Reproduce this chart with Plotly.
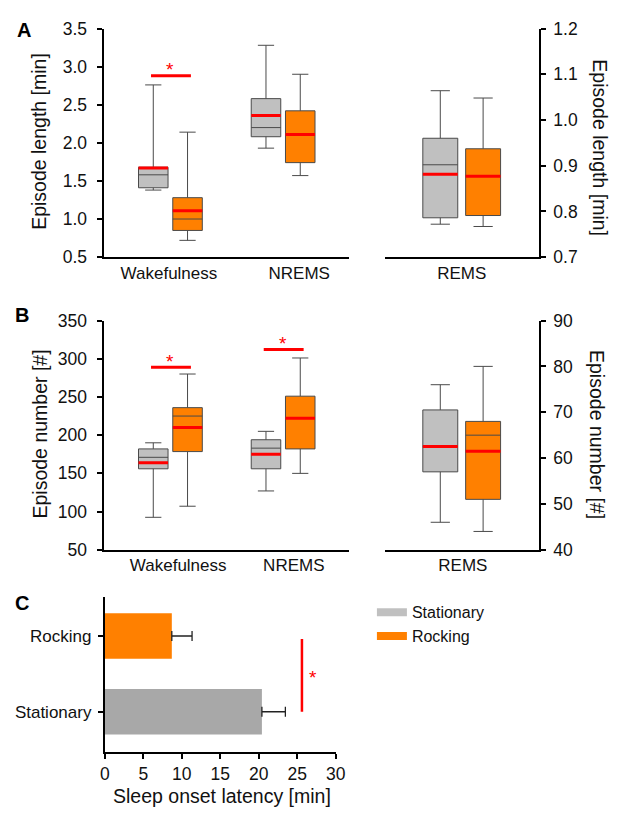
import plotly.graph_objects as go

W, H = 621, 819

# ------------------------------------------------------------------ data
states = ["Wakefulness", "NREMS", "REMS"]
groups = ["Stationary", "Rocking"]

# Panel A - episode length [min]; order: Wakefulness, NREMS, REMS (REMS on right axis)
A_stat_low = [1.38, 1.93, 0.772]
A_stat_q1 = [1.41, 2.08, 0.786]
A_stat_med = [1.58, 2.20, 0.902]
A_stat_q3 = [1.68, 2.58, 0.960]
A_stat_high = [2.76, 3.28, 1.064]
A_stat_mean = [1.67, 2.36, 0.881]

A_rock_low = [0.72, 1.57, 0.767]
A_rock_q1 = [0.85, 1.74, 0.791]
A_rock_med = [1.00, 2.10, 0.877]
A_rock_q3 = [1.28, 2.42, 0.937]
A_rock_high = [2.14, 2.90, 1.048]
A_rock_mean = [1.11, 2.11, 0.877]

A_sig_states = ["Wakefulness"]
A_sig_y = [2.88]

# Panel B - episode number [#]
B_stat_low = [92.5, 127, 46]
B_stat_q1 = [156, 156, 57]
B_stat_med = [171, 183, 62.5]
B_stat_q3 = [182, 194, 70.5]
B_stat_high = [190, 205, 76]
B_stat_mean = [164, 175, 62.5]

B_rock_low = [107, 150, 44]
B_rock_q1 = [178.5, 182, 51]
B_rock_med = [225, 222, 65]
B_rock_q3 = [236, 251, 68]
B_rock_high = [280, 301, 80]
B_rock_mean = [210, 222, 61.5]

B_sig_states = ["Wakefulness", "NREMS"]
B_sig_y = [289, 312]

# Panel C - sleep onset latency [min]
C_groups = ["Stationary", "Rocking"]
C_latency = [20.4, 8.7]
C_sem = [3.05, 2.63]
C_sig_x = 25.6

# tick values
A_left_ticks = [0.5, 1.0, 1.5, 2.0, 2.5, 3.0, 3.5]
A_right_ticks = [0.7, 0.8, 0.9, 1.0, 1.1, 1.2]
B_left_ticks = [50, 100, 150, 200, 250, 300, 350]
B_right_ticks = [40, 50, 60, 70, 80, 90]
C_x_ticks = [0, 5, 10, 15, 20, 25, 30]

# ------------------------------------------------------------------ style
GREY = "#c0c0c0"
ORANGE = "#ff8000"
BAR_GREY = "#a8a8a8"
RED = "#ff0000"
EDGE = "#4a4a4a"
FONT = "Liberation Sans, Arial, sans-serif"


def px(x):
    return x / W


def py(y):
    return 1 - y / H


UNIT = 115.5                      # px between category centres
pos = {"Wakefulness": 1.0, "NREMS": 2.0, "REMS": 3.0}
left_range = [1 - 68.5 / UNIT, 2 + 68 / UNIT]
right_range = [3 - 79 / UNIT, 3 + 79 / UNIT]
OFF_L, WID_L = 0.152, 0.262
OFF_R, WID_R = 0.19, 0.31

fig = go.Figure()


def add_boxes(stat, rock, xl, yl, xr, yr):
    cfg = [
        ("Stationary", stat, GREY, -1),
        ("Rocking", rock, ORANGE, +1),
    ]
    for name, s, col, sgn in cfg:
        low, q1, med, q3, high, mean = s
        xs = [pos[st] + sgn * OFF_L for st in states[:2]]
        fig.add_trace(go.Box(
            x=xs, q1=q1[:2], median=med[:2], q3=q3[:2],
            lowerfence=low[:2], upperfence=high[:2],
            width=WID_L, fillcolor=col, line=dict(color=EDGE, width=1),
            whiskerwidth=0.55, boxpoints=False, name=name,
            showlegend=False, xaxis=xl, yaxis=yl, hoverinfo="skip"))
        xr_pos = [pos[states[2]] + sgn * OFF_R]
        fig.add_trace(go.Box(
            x=xr_pos, q1=q1[2:], median=med[2:], q3=q3[2:],
            lowerfence=low[2:], upperfence=high[2:],
            width=WID_R, fillcolor=col, line=dict(color=EDGE, width=1),
            whiskerwidth=0.55, boxpoints=False, name=name,
            showlegend=False, xaxis=xr, yaxis=yr, hoverinfo="skip"))
        mx, my = [], []
        for i, st in enumerate(states[:2]):
            c = pos[st] + sgn * OFF_L
            mx += [c - WID_L / 2, c + WID_L / 2, None]
            my += [mean[i], mean[i], None]
        fig.add_trace(go.Scatter(x=mx, y=my, mode="lines",
                                 line=dict(color=RED, width=3),
                                 showlegend=False, hoverinfo="skip",
                                 xaxis=xl, yaxis=yl))
        c = pos[states[2]] + sgn * OFF_R
        fig.add_trace(go.Scatter(x=[c - WID_R / 2, c + WID_R / 2],
                                 y=[mean[2], mean[2]], mode="lines",
                                 line=dict(color=RED, width=3),
                                 showlegend=False, hoverinfo="skip",
                                 xaxis=xr, yaxis=yr))


add_boxes((A_stat_low, A_stat_q1, A_stat_med, A_stat_q3, A_stat_high, A_stat_mean),
          (A_rock_low, A_rock_q1, A_rock_med, A_rock_q3, A_rock_high, A_rock_mean),
          "x", "y", "x2", "y2")
add_boxes((B_stat_low, B_stat_q1, B_stat_med, B_stat_q3, B_stat_high, B_stat_mean),
          (B_rock_low, B_rock_q1, B_rock_med, B_rock_q3, B_rock_high, B_rock_mean),
          "x3", "y3", "x4", "y4")

# legend entries (wide rectangular swatches)
for name, col in zip(groups, [GREY, ORANGE]):
    fig.add_trace(go.Scatter(x=[None], y=[None], mode="lines", name=name,
                             line=dict(color=col, width=8),
                             showlegend=True, hoverinfo="skip",
                             xaxis="x5", yaxis="y5"))

annotations = []


def add_sig(sig_states, sig_y, xa, ya):
    for st, yv in zip(sig_states, sig_y):
        x0 = pos[st] - OFF_L - 0.02
        x1 = pos[st] + OFF_L + 0.03
        fig.add_trace(go.Scatter(x=[x0, x1], y=[yv, yv], mode="lines",
                                 line=dict(color=RED, width=3),
                                 showlegend=False, hoverinfo="skip",
                                 xaxis=xa, yaxis=ya))
        annotations.append(dict(x=pos[st], y=yv, xref=xa, yref=ya, text="*",
                                showarrow=False, yanchor="middle", yshift=6,
                                font=dict(family=FONT, size=19, color=RED)))


add_sig(A_sig_states, A_sig_y, "x", "y")
add_sig(B_sig_states, B_sig_y, "x3", "y3")

# Panel C bars
cy = list(range(len(C_groups)))
fig.add_trace(go.Bar(
    x=C_latency, y=cy, orientation="h", width=0.6,
    marker=dict(color=[BAR_GREY, ORANGE], line=dict(width=0)),
    error_x=dict(type="data", symmetric=False, array=C_sem,
                 arrayminus=[0] * len(C_sem), color="#222222",
                 thickness=1.3, width=5),
    showlegend=False, hoverinfo="skip", xaxis="x5", yaxis="y5"))
fig.add_trace(go.Scatter(x=[C_sig_x, C_sig_x], y=[cy[0], cy[1] - 0.04],
                         mode="lines", line=dict(color=RED, width=2.5),
                         showlegend=False, hoverinfo="skip",
                         xaxis="x5", yaxis="y5"))
annotations.append(dict(x=C_sig_x, y=0.5 * (cy[0] + cy[1]), xref="x5", yref="y5",
                        text="*", showarrow=False, xanchor="left", xshift=5,
                        yanchor="middle", yshift=-4,
                        font=dict(family=FONT, size=19, color=RED)))

# ------------------------------------------------------------------ axes
TICKFONT = dict(family=FONT, size=17.5, color="#111111")
CATFONT = dict(family=FONT, size=17, color="#111111")
common_x = dict(showline=True, linewidth=2, linecolor="black", ticks="",
                showgrid=False, zeroline=False, tickfont=CATFONT, fixedrange=True,
                ticklabelstandoff=-1)
common_y = dict(showline=True, linewidth=2, linecolor="black", ticks="outside",
                ticklen=5, tickwidth=1.5, tickcolor="black",
                showgrid=False, zeroline=False, tickfont=TICKFONT, fixedrange=True)

yA = [py(253.3), py(19)]
yB = [py(553.3), py(318.3)]

fig.update_layout(
    xaxis=dict(common_x, domain=[px(101), px(353)], range=left_range, anchor="y",
               tickvals=[pos["Wakefulness"] - 0.013, pos["NREMS"] + 0.143],
               ticktext=states[:2]),
    yaxis=dict(common_y, domain=yA, range=[0.5, 3.5], anchor="x",
               tickvals=A_left_ticks, tickformat=".1f", ticklabelstandoff=6),
    xaxis2=dict(common_x, domain=[px(389), px(547)], range=right_range, anchor="y2",
                tickvals=[pos["REMS"]], ticktext=[states[2]]),
    yaxis2=dict(common_y, domain=yA, range=[0.7, 1.2], anchor="x2", side="right",
                tickvals=A_right_ticks, tickformat=".1f", ticklabelstandoff=4),
    xaxis3=dict(common_x, domain=[px(101), px(353)], range=left_range, anchor="y3",
                tickvals=[pos["Wakefulness"] + 0.069, pos["NREMS"] + 0.095],
                ticktext=states[:2]),
    yaxis3=dict(common_y, domain=yB, range=[50, 350], anchor="x3",
                tickvals=B_left_ticks, ticklabelstandoff=6),
    xaxis4=dict(common_x, domain=[px(389), px(547)], range=right_range, anchor="y4",
                tickvals=[pos["REMS"] + 0.01], ticktext=[states[2]]),
    yaxis4=dict(common_y, domain=yB, range=[40, 90], anchor="x4", side="right",
                tickvals=B_right_ticks, ticklabelstandoff=4),
    xaxis5=dict(showline=True, linewidth=2, linecolor="black", ticks="outside",
                ticklen=5, tickwidth=1.5, tickcolor="black", showgrid=False,
                zeroline=False, tickfont=TICKFONT, domain=[px(102.3), px(339)],
                range=[0, 30], tickvals=C_x_ticks, anchor="y5", fixedrange=True),
    yaxis5=dict(common_y, domain=[py(760.7), py(601.7)], range=[-0.533, 1.515],
                tickvals=cy, ticktext=C_groups, anchor="x5", ticklabelstandoff=3,
                tickfont=CATFONT),
)

# titles and panel letters
TITLE = dict(family=FONT, size=19.5, color="#111111")
annotations += [
    dict(x=px(35), y=py(135), xref="paper", yref="paper", text="Episode length [min]",
         textangle=-90, showarrow=False, font=TITLE, xanchor="center", yanchor="middle"),
    dict(x=px(610), y=py(141), xref="paper", yref="paper", text="Episode length [min]",
         textangle=90, showarrow=False, font=TITLE, xanchor="center", yanchor="middle"),
    dict(x=px(36), y=py(435), xref="paper", yref="paper", text="Episode number [#]",
         textangle=-90, showarrow=False, font=TITLE, xanchor="center", yanchor="middle"),
    dict(x=px(606), y=py(435), xref="paper", yref="paper", text="Episode number [#]",
         textangle=90, showarrow=False, font=TITLE, xanchor="center", yanchor="middle"),
    dict(x=px(222.5), y=py(806), xref="paper", yref="paper",
         text="Sleep onset latency [min]", showarrow=False, font=TITLE,
         xanchor="center", yanchor="middle"),
]
LETTER = dict(family=FONT, size=20, color="black")
for letter, lx, ly in [("A", 19, 20), ("B", 17, 312.5), ("C", 17.5, 608)]:
    annotations.append(dict(x=px(lx), y=py(ly), xref="paper", yref="paper",
                            text="<b>%s</b>" % letter, showarrow=False, font=LETTER,
                            xanchor="center", yanchor="middle"))

fig.update_layout(
    annotations=annotations,
    width=W, height=H,
    margin=dict(l=0, r=0, t=0, b=0),
    paper_bgcolor="white", plot_bgcolor="white",
    boxmode="overlay",
    showlegend=True,
    legend=dict(x=px(376), y=py(600), xanchor="left", yanchor="top",
                font=dict(family=FONT, size=16, color="#111111"),
                bgcolor="rgba(0,0,0,0)", tracegroupgap=0, itemwidth=30),
    font=dict(family=FONT),
)

fig.write_html("out.html", config={"displayModeBar": False},
               post_script="document.body.style.margin='0';document.body.style.padding='0';")
